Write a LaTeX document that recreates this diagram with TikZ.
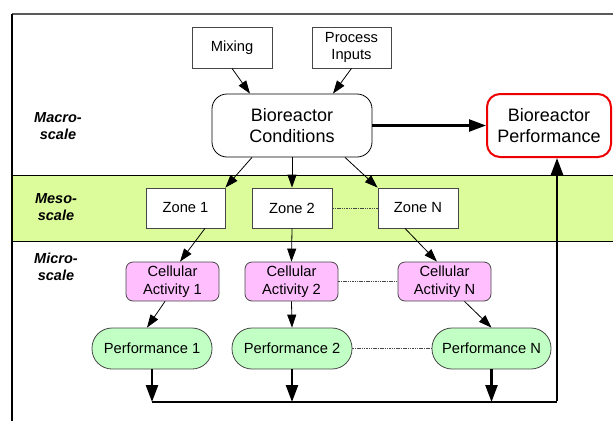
\documentclass[tikz,border=0pt]{standalone}
\usepackage{fontspec}
\setmainfont{Liberation Sans}
\usetikzlibrary{arrows.meta,calc}

\definecolor{bandgreen}{RGB}{220,252,155}
\definecolor{cellpink}{RGB}{255,191,255}
\definecolor{perfgreen}{RGB}{194,255,196}
\definecolor{alertred}{RGB}{238,0,0}
\definecolor{edgegray}{RGB}{70,70,70}

\tikzset{
  box/.style={draw=edgegray, line width=0.8pt, fill=white, inner sep=0pt,
    align=center, font=\fontsize{14.7}{17.5}\selectfont},
  bigbox/.style={draw=black, line width=0.8pt, fill=white, rounded corners=15pt,
    inner sep=0pt, align=center, font=\fontsize{18}{21.7}\selectfont},
  cellbox/.style={box, fill=cellpink, rounded corners=7pt,
    minimum width=93pt, minimum height=39pt},
  zonebox/.style={box, minimum width=80pt, minimum height=40pt},
  perfbox/.style={box, fill=perfgreen, rounded corners=20pt,
    minimum height=41pt},
  scalelabel/.style={align=center, inner sep=0pt,
    font=\fontsize{14.5}{16.7}\selectfont\bfseries\itshape},
  thinarrow/.style={draw=black, line width=0.8pt,
    -{Triangle[length=13pt,width=9pt]}},
  thickarrow/.style={draw=black, line width=2.4pt,
    -{Triangle[length=17pt,width=12pt]}},
  thickline/.style={draw=black, line width=2.4pt},
  peerlink/.style={draw=edgegray, line width=0.8pt, dash pattern=on 1.5pt off 0.8pt}
}

\begin{document}
\begin{tikzpicture}[x=1pt, y=-1pt]
\useasboundingbox (0,0) rectangle (613,421);

% meso-scale band
\fill[bandgreen] (12,175) rectangle (613,241);
\draw[black, line width=0.7pt] (12,175) -- (613,175);
\draw[black, line width=0.8pt] (12,241) -- (613,241);

% outer frame
\draw[gray!70!black, line width=1.2pt] (12,14) -- (613,14);
\draw[black, line width=1.2pt] (12,14) -- (12,421);

% scale labels
\node[scalelabel] (lmacro) at (58,126) {Macro-\\scale};
\node[scalelabel] (lmeso)  at (56,207) {Meso-\\scale};
\node[scalelabel] (lmicro) at (56,267) {Micro-\\scale};

% macro-scale
\node[box, minimum width=80pt, minimum height=41pt] (mix) at (232,47.5) {Mixing};
\node[box, minimum width=79pt, minimum height=41pt] (proc) at (351.5,47.5) {Process\\Inputs};
\node[bigbox, minimum width=160pt, minimum height=63pt] (cond) at (292,125.5) {Bioreactor\\Conditions};
\node[bigbox, draw=alertred, line width=2pt, rounded corners=13pt,
      minimum width=124pt, minimum height=63pt] (bperf) at (549,125.5) {Bioreactor\\Performance};

% meso-scale
\node[zonebox, minimum width=79pt] (zone1) at (185.5,208) {Zone 1};
\node[zonebox] (zone2) at (292,208) {Zone 2};
\node[zonebox] (zoneN) at (418,208) {Zone N};

% micro-scale
\node[cellbox] (ca1) at (172.5,281.5) {Cellular\\Activity 1};
\node[cellbox] (ca2) at (291.5,281.5) {Cellular\\Activity 2};
\node[cellbox] (caN) at (444.5,281.5) {Cellular\\Activity N};

\node[perfbox, minimum width=120pt] (perf1) at (152,348.5) {Performance 1};
\node[perfbox, minimum width=120pt] (perf2) at (292,348.5) {Performance 2};
\node[perfbox, minimum width=119pt] (perfN) at (491.5,348.5) {Performance N};

% links between peers
\draw[peerlink] (zone2.east) -- (zoneN.west);
\draw[peerlink] (ca2.east) -- (caN.west);
\draw[peerlink] (perf2.east) -- (perfN.west);

% inputs to conditions
\draw[thinarrow] (mix.south) -- ($(cond.north)+(-42,0)$);
\draw[thinarrow] (proc.south) -- ($(cond.north)+(41,0)$);
\draw[thickarrow] (cond.east) -- (bperf.west);

% conditions to zones
\draw[thinarrow] ($(cond.south)+(-40,0)$) -- (zone1.north east);
\draw[thinarrow] (cond.south) -- (zone2.north);
\draw[thinarrow] ($(cond.south)+(53,0)$) -- (zoneN.north west);

% zones to cellular activity
\draw[thinarrow] ($(zone1.south)+(19.5,0)$) -- ($(ca1.north)+(7.5,0)$);
\draw[thinarrow] (zone2.south) -- (ca2.north);
\draw[thinarrow] ($(zoneN.south)+(-13,0)$) -- ($(caN.north)+(-7.5,0)$);

% cellular activity to performance
\draw[thinarrow] ($(ca1.south)+(-7.5,0)$) -- ($(perf1.north)+(-5,0)$);
\draw[thinarrow] (ca2.south) -- (perf2.north);
\draw[thinarrow] ($(caN.south)+(20,0)$) -- (perfN.north);

% feedback to bioreactor performance
\coordinate (fb) at (557,402);
\draw[thickarrow] (perf1.south) -- (perf1.south |- fb);
\draw[thickarrow] (perf2.south) -- (perf2.south |- fb);
\draw[thickarrow] (perfN.south) -- (perfN.south |- fb);
\draw[thickline, line cap=butt] (perf1.south |- fb) -- (fb);
\draw[thickarrow] ([yshift=1.2pt]fb) -- (bperf.south -| fb);
\end{tikzpicture}
\end{document}
